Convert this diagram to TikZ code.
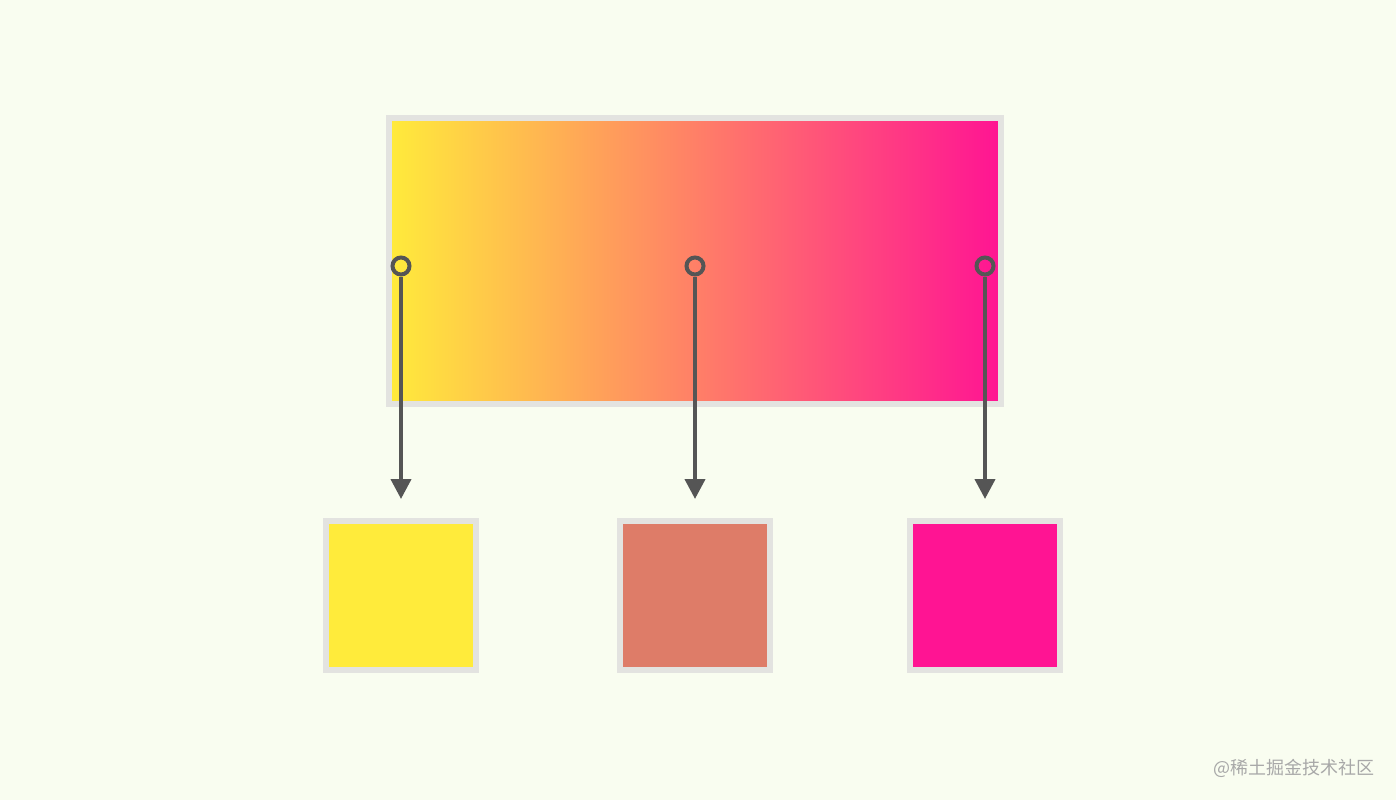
\documentclass[tikz,border=0pt]{standalone}
\usepackage{fontspec}
\newfontfamily\cjk{Noto Sans CJK SC}
\usetikzlibrary{arrows.meta}
\definecolor{bg}{HTML}{F9FDF0}
\definecolor{bordergray}{HTML}{E3E3E0}
\definecolor{linegray}{HTML}{555555}
\definecolor{gyellow}{HTML}{FFEB3B}
\definecolor{gpink}{HTML}{FF1493}
\definecolor{gmid}{HTML}{DE7C68}
\definecolor{wm}{HTML}{A8A8A8}
\tikzset{
  swatch/.style={draw=bordergray, line width=6pt, minimum width=150pt, minimum height=149pt, inner sep=0pt},
  probe/.style={circle, draw=linegray, line width=4pt, minimum size=17pt, inner sep=0pt},
  pick/.style={draw=linegray, line width=4pt, -{Triangle[width=20pt,length=20pt]}, shorten >=19pt},
}
\begin{document}
\begin{tikzpicture}[x=1pt,y=-1pt]
\fill[bg] (0,0) rectangle (1396,800);
\useasboundingbox (0,0) rectangle (1396,800);
\node[draw=bordergray, line width=6pt, left color=gyellow, right color=gpink, minimum width=612pt, minimum height=286pt, inner sep=0pt] (grad) at (695,261) {};
\node[swatch, fill=gyellow] (s1) at (401,595.5) {};
\node[swatch, fill=gmid] (s2) at (695,595.5) {};
\node[swatch, fill=gpink] (s3) at (985,595.5) {};
\node[probe] (c1) at (401,266) {};
\node[probe] (c2) at (695,266) {};
\node[probe] (c3) at (985,266) {};
\draw[pick] (c1.south) -- (s1.north);
\draw[pick] (c2.south) -- (s2.north);
\draw[pick] (c3.south) -- (s3.north);
\node[text=wm, font=\cjk\fontsize{18pt}{20pt}\selectfont, inner sep=0pt] (wmark) at (1294,768) {@稀土掘金技术社区};
\end{tikzpicture}
\end{document}
